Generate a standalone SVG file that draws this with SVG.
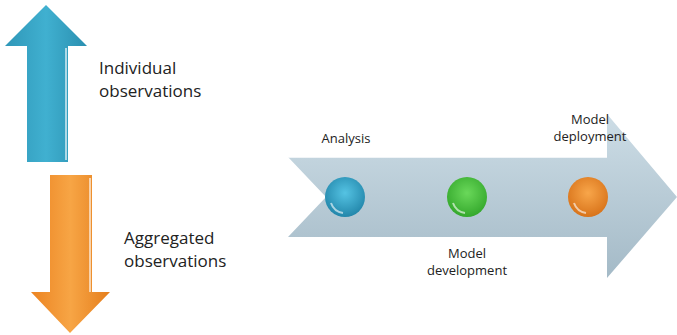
<svg xmlns="http://www.w3.org/2000/svg" width="677" height="335" viewBox="0 0 677 335">
<defs>
<linearGradient id="gBlue" x1="0" y1="0" x2="1" y2="0">
<stop offset="0" stop-color="#2f97b8"/><stop offset="0.5" stop-color="#40b0d0"/><stop offset="1" stop-color="#2a8fb0"/>
</linearGradient>
<linearGradient id="gOrange" x1="0" y1="0" x2="1" y2="0">
<stop offset="0" stop-color="#ec8422"/><stop offset="0.5" stop-color="#f7a545"/><stop offset="1" stop-color="#e57e1c"/>
</linearGradient>
<linearGradient id="gBig" x1="0" y1="0" x2="0" y2="1">
<stop offset="0" stop-color="#cddde6"/><stop offset="1" stop-color="#a4bac7"/>
</linearGradient>
<radialGradient id="bBlue" cx="0.5" cy="0.4" r="0.6"><stop offset="0" stop-color="#55c3e3"/><stop offset="1" stop-color="#2286aa"/></radialGradient>
<radialGradient id="bGreen" cx="0.5" cy="0.4" r="0.6"><stop offset="0" stop-color="#6ad85a"/><stop offset="1" stop-color="#34a82c"/></radialGradient>
<radialGradient id="bOrange" cx="0.5" cy="0.4" r="0.6"><stop offset="0" stop-color="#f8a64a"/><stop offset="1" stop-color="#d8731a"/></radialGradient>
</defs>
<style>
text{font-family:"Open Sans","Liberation Sans",sans-serif;fill:#222}
.big{font-size:17px}
.sm{font-size:13px}
.hl{fill:none;stroke:#ffffff;stroke-opacity:0.6;stroke-width:2}
</style>
<g id="up-arrow">
<path d="M46,5 L87,46 L68,46 L68,162 L27,162 L27,46 L5,46 Z" fill="url(#gBlue)"/>
<path d="M66,48 L66,160" class="hl"/>
</g>
<g id="individual-label">
<text class="big" x="99" y="74">Individual</text>
<text class="big" x="99" y="97">observations</text>
</g>
<g id="down-arrow">
<path d="M50,175 L92,175 L92,292 L110,292 L70,333 L31,292 L50,292 Z" fill="url(#gOrange)"/>
<path d="M90,178 L90,292" class="hl"/>
</g>
<g id="aggregated-label">
<text class="big" x="124" y="244">Aggregated</text>
<text class="big" x="124" y="267">observations</text>
</g>
<g id="process-arrow">
<path d="M288,157 L607,157 L607,114 L677,197 L607,278 L607,237 L288,237 L326,197 Z" fill="url(#gBig)"/>
<path d="M288,157 L607,157" stroke="#ffffff" stroke-width="1.5"/>
</g>
<g id="analysis">
<circle cx="345" cy="197" r="20" fill="url(#bBlue)"/>
<path d="M331,203 A15,15 0 0 0 343,213" class="hl"/>
<text class="sm" x="346" y="143" text-anchor="middle">Analysis</text>
</g>
<g id="model-development">
<circle cx="467" cy="197" r="20" fill="url(#bGreen)"/>
<path d="M453,203 A15,15 0 0 0 465,213" class="hl"/>
<text class="sm" x="467" y="258" text-anchor="middle">Model</text>
<text class="sm" x="467" y="275" text-anchor="middle">development</text>
</g>
<g id="model-deployment">
<circle cx="588" cy="197" r="20" fill="url(#bOrange)"/>
<path d="M574,203 A15,15 0 0 0 586,213" class="hl"/>
<text class="sm" x="590" y="124" text-anchor="middle">Model</text>
<text class="sm" x="590" y="141" text-anchor="middle">deployment</text>
</g>
</svg>
